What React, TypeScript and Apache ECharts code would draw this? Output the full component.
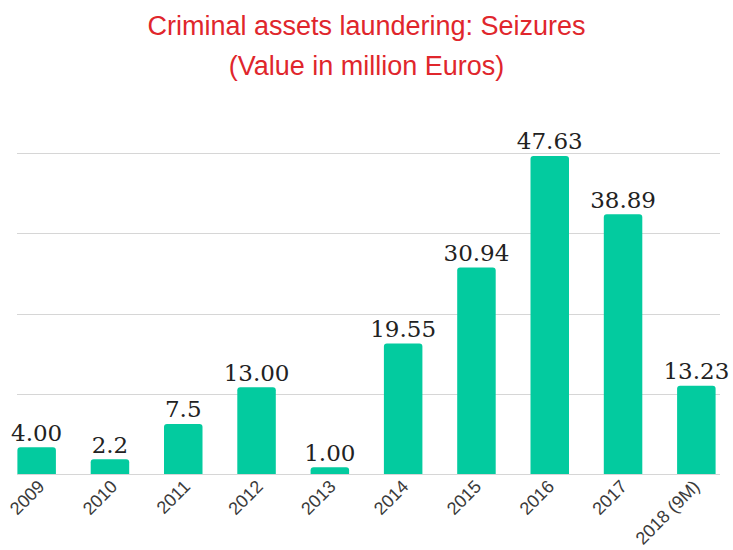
import React, { useEffect, useRef } from "react";
import * as echarts from "echarts";

const categories = ["2009", "2010", "2011", "2012", "2013", "2014", "2015", "2016", "2017", "2018 (9M)"];
const values = [4.0, 2.2, 7.5, 13.0, 1.0, 19.55, 30.94, 47.63, 38.89, 13.23];
const valueLabels = ["4.00", "2.2", "7.5", "13.00", "1.00", "19.55", "30.94", "47.63", "38.89", "13.23"];
const titleLines = ["Criminal assets laundering: Seizures", "(Value in million Euros)"];
const yMax = 48;
const yInterval = 12;

export default function App() {
  const ref = useRef<HTMLDivElement>(null);
  useEffect(() => {
    if (!ref.current) return;
    const chart = echarts.init(ref.current, null, { renderer: "svg" });
    const top = 153.5;
    const height = 320.5;
    chart.setOption({
      animation: false,
      backgroundColor: "#ffffff",
      title: {
        text: titleLines.join("\n"),
        left: "center",
        top: 1,
        textStyle: {
          color: "#E0262C",
          fontSize: 27,
          fontWeight: "normal",
          fontFamily: "Liberation Sans, Arial, sans-serif",
          lineHeight: 40,
        },
      },
      grid: [
        { left: 0, width: 735, top, height },
        { left: 17, right: 13, top, height },
        { left: 5, width: 735, top, height },
      ],
      xAxis: [
        {
          type: "category",
          gridIndex: 0,
          data: categories,
          axisLine: { show: false },
          axisTick: { show: false },
          axisLabel: { show: false },
        },
        {
          type: "category",
          gridIndex: 1,
          data: categories,
          show: false,
        },
        {
          type: "category",
          gridIndex: 2,
          data: categories,
          axisLine: { show: false },
          axisTick: { show: false },
          axisLabel: {
            rotate: 45,
            margin: 11,
            fontSize: 18,
            color: "#3a3a3a",
            fontFamily: "Liberation Sans, Arial, sans-serif",
          },
        },
      ],
      yAxis: [
        {
          type: "value",
          gridIndex: 0,
          min: 0,
          max: yMax,
          interval: yInterval,
          show: false,
          splitLine: { show: false },
        },
        {
          type: "value",
          gridIndex: 1,
          min: 0,
          max: yMax,
          interval: yInterval,
          axisLine: { show: false },
          axisTick: { show: false },
          axisLabel: { show: false },
          splitLine: { show: true, lineStyle: { color: "#d6d6d6", width: 1 } },
        },
        {
          type: "value",
          gridIndex: 2,
          min: 0,
          max: yMax,
          interval: yInterval,
          show: false,
          splitLine: { show: false },
        },
      ],
      series: [
        {
          type: "bar",
          xAxisIndex: 0,
          yAxisIndex: 0,
          data: values,
          barWidth: 38.5,
          itemStyle: { color: "#03CB9F", borderRadius: [3, 3, 0, 0] },
          label: {
            show: true,
            position: "top",
            distance: 3,
            fontSize: 23,
            color: "#222222",
            fontFamily: "DejaVu Serif, serif",
            formatter: (p: any) => valueLabels[p.dataIndex],
          },
        },
      ],
    });
    return () => chart.dispose();
  }, []);
  return (
    <div
      ref={ref}
      style={{ position: "fixed", left: 0, top: 0, width: 733, height: 550 }}
    />
  );
}
